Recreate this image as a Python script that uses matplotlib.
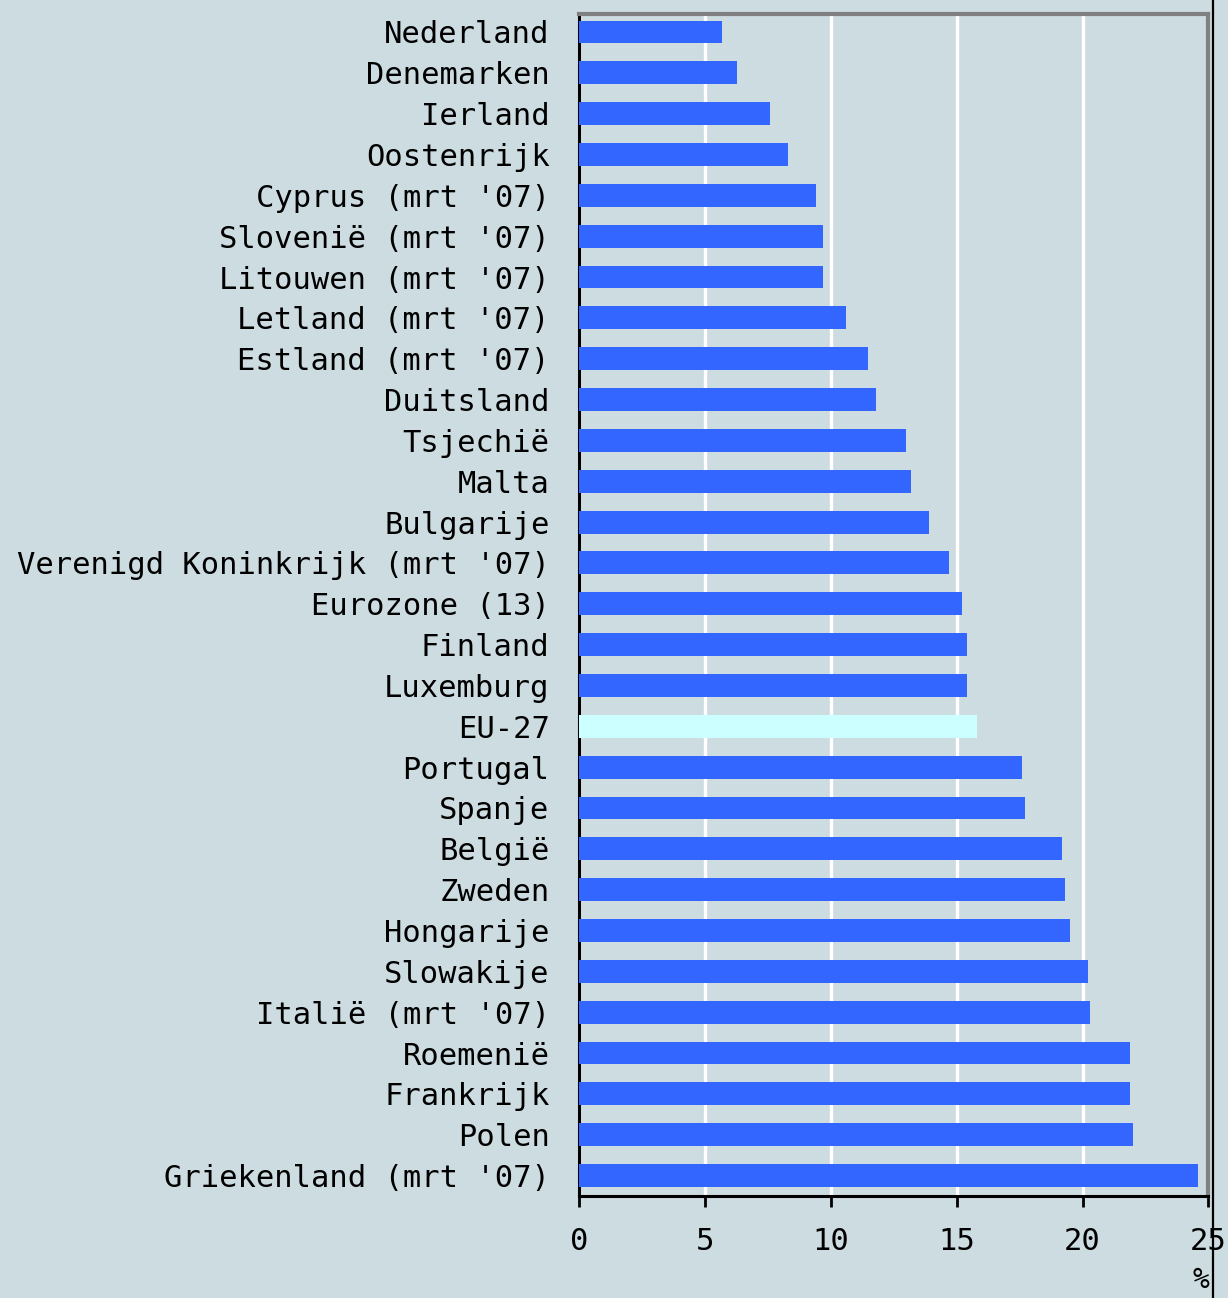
import matplotlib.pyplot as plt
from matplotlib.lines import Line2D

# data (%)
countries = ['Nederland', 'Denemarken', 'Ierland', 'Oostenrijk', "Cyprus (mrt '07)",
             "Slovenië (mrt '07)", "Litouwen (mrt '07)", "Letland (mrt '07)",
             "Estland (mrt '07)", 'Duitsland', 'Tsjechië', 'Malta', 'Bulgarije',
             "Verenigd Koninkrijk (mrt '07)", 'Eurozone (13)', 'Finland', 'Luxemburg',
             'EU-27', 'Portugal', 'Spanje', 'België', 'Zweden', 'Hongarije',
             'Slowakije', "Italië (mrt '07)", 'Roemenië', 'Frankrijk', 'Polen',
             "Griekenland (mrt '07)"]
values = [5.7, 6.3, 7.6, 8.3, 9.4, 9.7, 9.7, 10.6, 11.5, 11.8, 13.0, 13.2, 13.9,
          14.7, 15.2, 15.4, 15.4, 15.8, 17.6, 17.7, 19.2, 19.3, 19.5, 20.2, 20.3,
          21.9, 21.9, 22.0, 24.6]
highlight = 'EU-27'
xticks = [0, 5, 10, 15, 20, 25]

bg = '#CDDCE1'
blue = '#3366FF'
cyan = '#CCFFFF'

fig = plt.figure(figsize=(12.28, 12.98), dpi=100, facecolor=bg)
ax = fig.add_axes([0.4713, 0.0786, 0.9841 - 0.4713, 0.9892 - 0.0786])
ax.set_facecolor(bg)

colors = [cyan if c == highlight else blue for c in countries]
ypos = list(range(len(countries)))
ax.barh(ypos, values, height=0.56, color=colors, zorder=3)

ax.set_xlim(0, 25)
ax.set_ylim(len(countries) - 0.5, -0.44)
ax.set_yticks(ypos)
ax.set_yticklabels(countries, fontsize=22, family='DejaVu Sans Mono')
ax.set_xticks(xticks)
ax.set_xticklabels([str(t) for t in xticks], fontsize=22, family='DejaVu Sans Mono')
ax.tick_params(axis='y', length=0, pad=21)
ax.tick_params(axis='x', length=8, width=2, pad=14, color='black')

ax.grid(axis='x', color='white', linewidth=2.4, zorder=1)
ax.set_axisbelow(True)

for s in ['left', 'bottom']:
    ax.spines[s].set_color('black')
    ax.spines[s].set_linewidth(2.2)
for s in ['top', 'right']:
    ax.spines[s].set_color('#808080')
    ax.spines[s].set_linewidth(3)

# outer frame line on the right
fig.add_artist(Line2D([1213 / 1228, 1213 / 1228], [0, 1], transform=fig.transFigure,
                      color='black', linewidth=1.6))
fig.text(1201 / 1228, 1 - 1266 / 1298, '%', fontsize=20, family='DejaVu Sans Mono',
         ha='center', va='top')

fig.savefig('out.png', dpi=100, facecolor=bg)
